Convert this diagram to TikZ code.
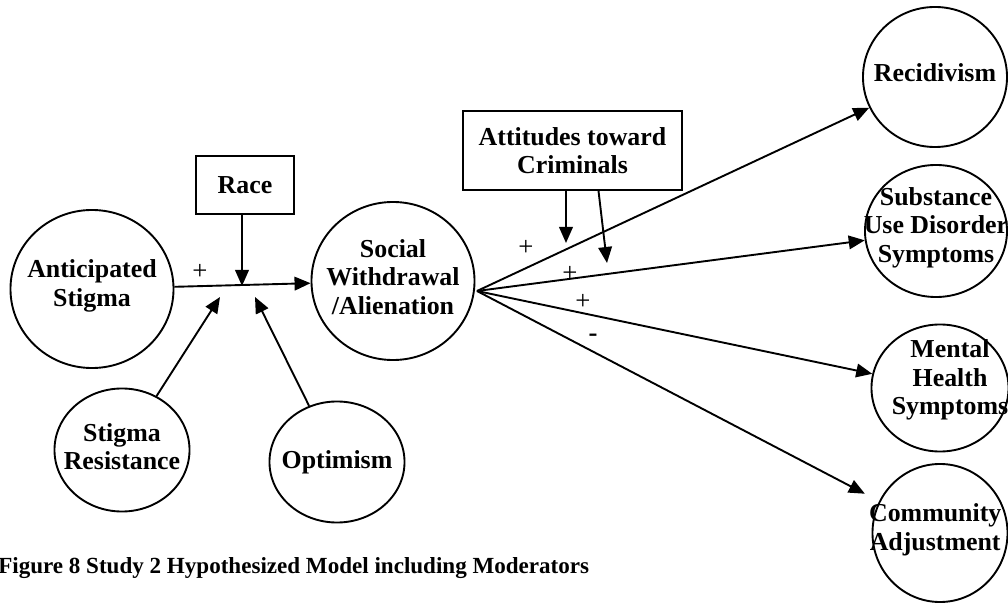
\documentclass[tikz,border=0pt]{standalone}
\usepackage{fontspec}
\setmainfont{Liberation Serif}
\usetikzlibrary{shapes.geometric,arrows.meta}
\begin{document}
\begin{tikzpicture}[x=0.025cm,y=-0.025cm,
 var/.style={draw,ellipse,line width=1.35pt,inner sep=0pt},
 txt/.style={font=\bfseries\fontsize{18.4}{20.3}\selectfont,align=center,inner sep=0pt},
 mod/.style={draw,rectangle,line width=1.35pt,txt},
 arr/.style={line width=1.35pt,-{Triangle[length=0.4cm,width=0.34cm]}},
 sgn/.style={font=\fontsize{19}{20}\selectfont,inner sep=0pt}]
 \useasboundingbox (0,0) rectangle (1008,603);
 \node[var,minimum width=4.075cm,minimum height=3.95cm,label={[txt,yshift=0.08cm]center:Anticipated\\Stigma}] (ant) at (92,289) {};
 \node[var,minimum width=4.075cm,minimum height=3.95cm,label={[txt,yshift=0.1cm]center:Social\\Withdrawal\\/Alienation}] (soc) at (393,281) {};
 \node[var,minimum width=3.375cm,minimum height=3.075cm,label={[txt,yshift=0.08cm]center:Stigma\\Resistance}] (res) at (122,450) {};
 \node[var,minimum width=3.375cm,minimum height=3.025cm,label={[txt]center:Optimism}] (opt) at (337,462) {};
 \node[var,minimum width=3.6cm,minimum height=3.5cm,label={[txt,yshift=0.12cm]center:Recidivism}] (rec) at (935,77) {};
 \node[var,minimum width=3.55cm,minimum height=3.3cm,label={[txt,yshift=0.08cm]center:Substance\\Use Disorder\\Symptoms}] (sub) at (936,231) {};
 \node[var,minimum width=3.425cm,minimum height=3.175cm,label={[txt,xshift=0.25cm,yshift=0.2cm]center:Mental\\Health\\Symptoms}] (men) at (940,388) {};
 \node[var,minimum width=3.375cm,minimum height=3.45cm,label={[txt,xshift=-0.12cm,yshift=0.08cm]center:Community\\Adjustment}] (com) at (940,533) {};
 \node[mod,minimum width=2.45cm,minimum height=1.45cm] (race) at (245,185) {Race};
 \node[mod,minimum width=5.475cm,minimum height=1.975cm] (att) at (572.5,150.5) {Attitudes toward\\Criminals};
 \coordinate (m1) at (242,286);
 \coordinate (m2) at (220,297);
 \coordinate (m3) at (255,297);
 \coordinate (s0) at (477,291);
 \coordinate (a1) at (566,243);
 \coordinate (a2) at (607,263);
 \draw[arr] (ant) -- (soc);
 \draw[arr] (race.south -| m1) -- (m1);
 \draw[arr] (res) -- (m2);
 \draw[arr] (opt) -- (m3);
 \draw[arr] (s0) -- (rec);
 \draw[arr] (s0) -- (sub);
 \draw[arr] (s0) -- (men);
 \draw[arr,shorten >=0.4cm] (s0) -- (com);
 \draw[arr] (att.south -| a1) -- (a1);
 \draw[arr] ([xshift=0.65cm]att.south) -- (a2);
 \node[sgn] (p0) at (200,272) {+};
 \node[sgn] (p1) at (526,248) {+};
 \node[sgn] (p2) at (570,274) {+};
 \node[sgn] (p3) at (583,302) {+};
 \node[sgn] (p4) at (593,338) {\textbf{-}};
 \node[anchor=base west,inner sep=0pt,font=\bfseries\fontsize{16.4}{19}\selectfont] (cap) at (-2,573) {Figure 8 Study 2 Hypothesized Model including Moderators};
\end{tikzpicture}
\end{document}
